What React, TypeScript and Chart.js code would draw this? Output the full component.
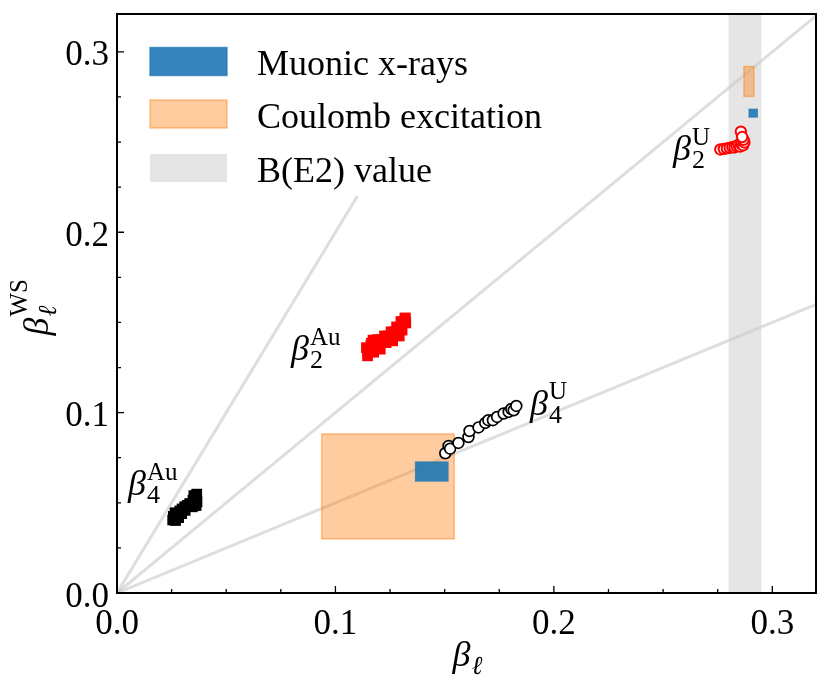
import { useEffect, useRef } from 'react';
import { Chart, registerables } from 'chart.js';

Chart.register(...registerables);

// ---- axes ----
const X_MIN = 0;
const X_MAX = 0.32;
const Y_MIN = 0;
const Y_MAX = 0.321;
const X_TICKS = [0, 0.1, 0.2, 0.3];
const Y_TICKS = [0, 0.1, 0.2, 0.3];
const X_MINOR = [0.025, 0.05, 0.075, 0.125, 0.15, 0.175, 0.225, 0.25, 0.275];
const Y_MINOR = [0.025, 0.05, 0.075, 0.125, 0.15, 0.175, 0.225, 0.25, 0.275];
const X_TICK_LABELS = ['0.0', '0.1', '0.2', '0.3'];
const Y_TICK_LABELS = ['0.0', '0.1', '0.2', '0.3'];

// ---- data ----
const B4AU_X = [0.0255, 0.0258, 0.0266, 0.0278, 0.0288, 0.0298, 0.031, 0.0322, 0.0333, 0.0342, 0.0348, 0.0358, 0.0365, 0.0366, 0.0362, 0.0268, 0.0282, 0.0296, 0.0312, 0.0345, 0.0352];
const B4AU_Y = [0.0405, 0.0425, 0.0445, 0.0436, 0.0455, 0.0466, 0.0478, 0.0486, 0.0496, 0.049, 0.0515, 0.053, 0.0548, 0.0505, 0.0485, 0.0402, 0.0418, 0.0440, 0.0458, 0.0478, 0.0540];

const B2AU_X = [0.1147, 0.1147, 0.1162, 0.1186, 0.1213, 0.1241, 0.1268, 0.1291, 0.1312, 0.132, 0.1195, 0.1232, 0.1259, 0.1286, 0.1305, 0.1322, 0.1172, 0.1318, 0.1142, 0.1165, 0.1193, 0.1225, 0.1255, 0.128, 0.13, 0.1175, 0.1205, 0.1262, 0.1292];
const B2AU_Y = [0.1315, 0.1346, 0.1372, 0.139, 0.1405, 0.1425, 0.1447, 0.1473, 0.15, 0.1525, 0.1368, 0.1388, 0.1407, 0.1432, 0.1458, 0.1497, 0.1402, 0.1522, 0.136, 0.1385, 0.1405, 0.1425, 0.1448, 0.1475, 0.1505, 0.1335, 0.1352, 0.1398, 0.1425];

const B4U_X = [0.1503, 0.1518, 0.1525, 0.1563, 0.1609, 0.1614, 0.1655, 0.1686, 0.17, 0.1721, 0.174, 0.177, 0.1793, 0.1805, 0.1816, 0.1828];
const B4U_Y = [0.0775, 0.0815, 0.08, 0.0832, 0.0865, 0.0898, 0.0918, 0.0943, 0.0958, 0.0958, 0.0976, 0.0995, 0.1004, 0.102, 0.1013, 0.1037];

const B2U_X = [0.2762, 0.2778, 0.2792, 0.2805, 0.2817, 0.2827, 0.2836, 0.2845, 0.2852, 0.2858, 0.2866, 0.2872, 0.2868, 0.2856, 0.2862];
const B2U_Y = [0.2459, 0.2462, 0.2465, 0.2468, 0.2472, 0.247, 0.2478, 0.2485, 0.2475, 0.249, 0.2482, 0.2498, 0.2512, 0.2558, 0.2528];

// reference lines through the origin (endpoints)
const REF_LINE_STEEP = [{ x: 0, y: 0 }, { x: 0.11, y: 0.22 }];
const REF_LINE_DIAG = [{ x: 0, y: 0 }, { x: 0.34, y: 0.34 }];
const REF_LINE_SHALLOW = [{ x: 0, y: 0 }, { x: 0.34, y: 0.17 }];

// boxes: [xMin, xMax, yMin, yMax]
const MUONIC_BOXES = [
  [0.1366, 0.1516, 0.062, 0.0727],
  [0.2893, 0.2932, 0.2638, 0.2683],
];
const COULEX_BOXES = [
  [0.0937, 0.1544, 0.03, 0.0882],
  [0.287, 0.2916, 0.2753, 0.2919],
];
const BE2_BAND = [0.28, 0.295];

const LEGEND_LABELS = ['Muonic x-rays', 'Coulomb excitation', 'B(E2) value'];

// ---- styles ----
const BLUE_FILL = 'rgba(31,119,180,0.9)';
const BLUE_EDGE = 'rgba(31,119,180,0.7)';
const ORANGE_FILL = 'rgba(255,127,14,0.4)';
const ORANGE_EDGE = 'rgba(255,127,14,0.45)';
const GRAY_FILL = 'rgb(229,229,229)';
const LINE_COLOR = 'rgba(200,200,200,0.6)';
const SERIF = '"Liberation Serif", "DejaVu Serif", serif';

function zip(xs: number[], ys: number[]) {
  return xs.map((x, i) => ({ x, y: ys[i] }));
}

function drawBeta(
  ctx: CanvasRenderingContext2D,
  x: number,
  y: number,
  sub: string,
  sup: string,
  subItalic: boolean,
  supDy: number,
  subDy: number,
) {
  ctx.font = `italic 36px ${SERIF}`;
  ctx.fillText('β', x, y);
  const w = ctx.measureText('β').width;
  if (sub) {
    ctx.font = `${subItalic ? 'italic ' : ''}26px ${SERIF}`;
    ctx.fillText(sub, x + w + 1, y + subDy);
  }
  if (sup) {
    ctx.font = `25px ${SERIF}`;
    ctx.fillText(sup, x + w + 1, y + supDy);
  }
}

const overlayPlugin = {
  id: 'overlay',
  beforeDatasetsDraw(chart: any) {
    const { ctx, chartArea: a, scales } = chart;
    const xs = scales.x;
    ctx.save();
    ctx.fillStyle = GRAY_FILL;
    const bx0 = xs.getPixelForValue(BE2_BAND[0]);
    const bx1 = xs.getPixelForValue(BE2_BAND[1]);
    ctx.fillRect(bx0, a.top, bx1 - bx0, a.bottom - a.top);
    ctx.restore();
  },
  afterDatasetDraw(chart: any, args: any) {
    if (args.index !== 4) return;
    const { ctx, scales } = chart;
    const xs = scales.x;
    const ys = scales.y;
    const box = (b: number[], fill: string, edge: string, lw: number) => {
      const x0 = xs.getPixelForValue(b[0]);
      const x1 = xs.getPixelForValue(b[1]);
      const y0 = ys.getPixelForValue(b[3]);
      const y1 = ys.getPixelForValue(b[2]);
      ctx.fillStyle = fill;
      ctx.fillRect(x0, y0, x1 - x0, y1 - y0);
      ctx.strokeStyle = edge;
      ctx.lineWidth = lw;
      ctx.strokeRect(x0, y0, x1 - x0, y1 - y0);
    };
    ctx.save();
    COULEX_BOXES.forEach((b) => box(b, ORANGE_FILL, ORANGE_EDGE, 1.5));
    MUONIC_BOXES.forEach((b) => box(b, BLUE_FILL, BLUE_EDGE, 1));
    ctx.restore();
  },
  afterDraw(chart: any) {
    const { ctx, chartArea: a, scales } = chart;
    const xs = scales.x;
    const ys = scales.y;
    ctx.save();
    // frame
    ctx.strokeStyle = '#000';
    ctx.lineWidth = 2;
    ctx.strokeRect(a.left, a.top, a.right - a.left, a.bottom - a.top);
    // ticks (inward)
    ctx.lineWidth = 1.3;
    ctx.beginPath();
    X_TICKS.forEach((v) => {
      const px = xs.getPixelForValue(v);
      ctx.moveTo(px, a.bottom);
      ctx.lineTo(px, a.bottom - 7);
    });
    X_MINOR.forEach((v) => {
      const px = xs.getPixelForValue(v);
      ctx.moveTo(px, a.bottom);
      ctx.lineTo(px, a.bottom - 4);
    });
    Y_TICKS.forEach((v) => {
      const py = ys.getPixelForValue(v);
      ctx.moveTo(a.left, py);
      ctx.lineTo(a.left + 7, py);
    });
    Y_MINOR.forEach((v) => {
      const py = ys.getPixelForValue(v);
      ctx.moveTo(a.left, py);
      ctx.lineTo(a.left + 4, py);
    });
    ctx.stroke();

    // tick labels
    ctx.fillStyle = '#000';
    ctx.font = `35px ${SERIF}`;
    ctx.textBaseline = 'alphabetic';
    ctx.textAlign = 'center';
    X_TICKS.forEach((v, i) => {
      ctx.fillText(X_TICK_LABELS[i], xs.getPixelForValue(v), a.bottom + 41);
    });
    ctx.textAlign = 'right';
    Y_TICKS.forEach((v, i) => {
      ctx.fillText(Y_TICK_LABELS[i], a.left - 8, ys.getPixelForValue(v) + 13.5);
    });

    // axis titles
    ctx.textAlign = 'left';
    const cx = (a.left + a.right) / 2;
    drawBeta(ctx, cx - 14, a.bottom + 73, 'ℓ', '', true, 0, 8);
    ctx.save();
    ctx.translate(48, (a.top + a.bottom) / 2);
    ctx.rotate(-Math.PI / 2);
    drawBeta(ctx, -32, 0, 'ℓ', 'WS', true, -21, 8);
    ctx.restore();

    // annotations
    drawBeta(ctx, 128, 495, '4', 'Au', false, -15, 8);
    drawBeta(ctx, 291, 360, '2', 'Au', false, -15, 8);
    drawBeta(ctx, 530, 415, '4', 'U', false, -16, 8);
    drawBeta(ctx, 673, 160, '2', 'U', false, -15, 8);

    // legend
    const patchX = 150;
    const patchW = 77;
    const patchH = 28;
    const patchY = [47.5, 100, 154];
    const fills = [BLUE_FILL, ORANGE_FILL, GRAY_FILL];
    const edges = [BLUE_EDGE, ORANGE_EDGE, ''];
    LEGEND_LABELS.forEach((label, i) => {
      ctx.fillStyle = fills[i];
      ctx.fillRect(patchX, patchY[i], patchW, patchH);
      if (edges[i]) {
        ctx.strokeStyle = edges[i];
        ctx.lineWidth = 1.5;
        ctx.strokeRect(patchX, patchY[i], patchW, patchH);
      }
      ctx.fillStyle = '#000';
      ctx.font = `36px ${SERIF}`;
      ctx.fillText(label, 257, patchY[i] + 27.5);
    });
    ctx.restore();
  },
};

export default function App() {
  const ref = useRef<HTMLCanvasElement | null>(null);

  useEffect(() => {
    document.body.style.margin = '0';
    const canvas = ref.current;
    if (!canvas) return;
    const lineDs = (data: { x: number; y: number }[]) => ({
      type: 'line' as const,
      data,
      borderColor: LINE_COLOR,
      borderWidth: 3,
      pointRadius: 0,
      fill: false,
      showLine: true,
      order: 1,
    });
    const chart = new Chart(canvas, {
      type: 'scatter',
      data: {
        datasets: [
          {
            label: 'beta4 Au',
            data: zip(B4AU_X, B4AU_Y),
            pointStyle: 'rect',
            pointRadius: 7.6,
            backgroundColor: '#000',
            borderColor: '#000',
            borderWidth: 0,
            order: 0,
          },
          {
            label: 'beta2 Au',
            data: zip(B2AU_X, B2AU_Y),
            pointStyle: 'rect',
            pointRadius: 7.6,
            backgroundColor: '#ff0000',
            borderColor: '#ff0000',
            borderWidth: 0,
            order: 0,
          },
          {
            label: 'beta4 U',
            data: zip(B4U_X, B4U_Y),
            pointStyle: 'circle',
            pointRadius: 5.4,
            backgroundColor: '#fff',
            borderColor: '#000',
            borderWidth: 1.7,
            order: 0,
          },
          {
            label: 'beta2 U',
            data: zip(B2U_X, B2U_Y),
            pointStyle: 'circle',
            pointRadius: 5.2,
            backgroundColor: '#fff',
            borderColor: '#ff0000',
            borderWidth: 2,
            order: 0,
          },
          lineDs(REF_LINE_STEEP) as any,
          lineDs(REF_LINE_DIAG) as any,
          lineDs(REF_LINE_SHALLOW) as any,
        ],
      },
      options: {
        animation: false,
        responsive: true,
        maintainAspectRatio: false,
        events: [],
        layout: { padding: { left: 0, right: 15, top: 14, bottom: 0 } },
        plugins: {
          legend: { display: false },
          tooltip: { enabled: false },
        },
        scales: {
          x: {
            type: 'linear',
            min: X_MIN,
            max: X_MAX,
            ticks: { display: false },
            grid: { display: false },
            border: { display: false },
            afterFit: (s: any) => {
              s.height = 105;
            },
          },
          y: {
            type: 'linear',
            min: Y_MIN,
            max: Y_MAX,
            ticks: { display: false },
            grid: { display: false },
            border: { display: false },
            afterFit: (s: any) => {
              s.width = 117;
            },
          },
        },
      },
      plugins: [overlayPlugin],
    });
    return () => chart.destroy();
  }, []);

  return (
    <div style={{ position: 'relative', width: 831, height: 698, background: '#fff' }}>
      <canvas ref={ref} />
    </div>
  );
}
